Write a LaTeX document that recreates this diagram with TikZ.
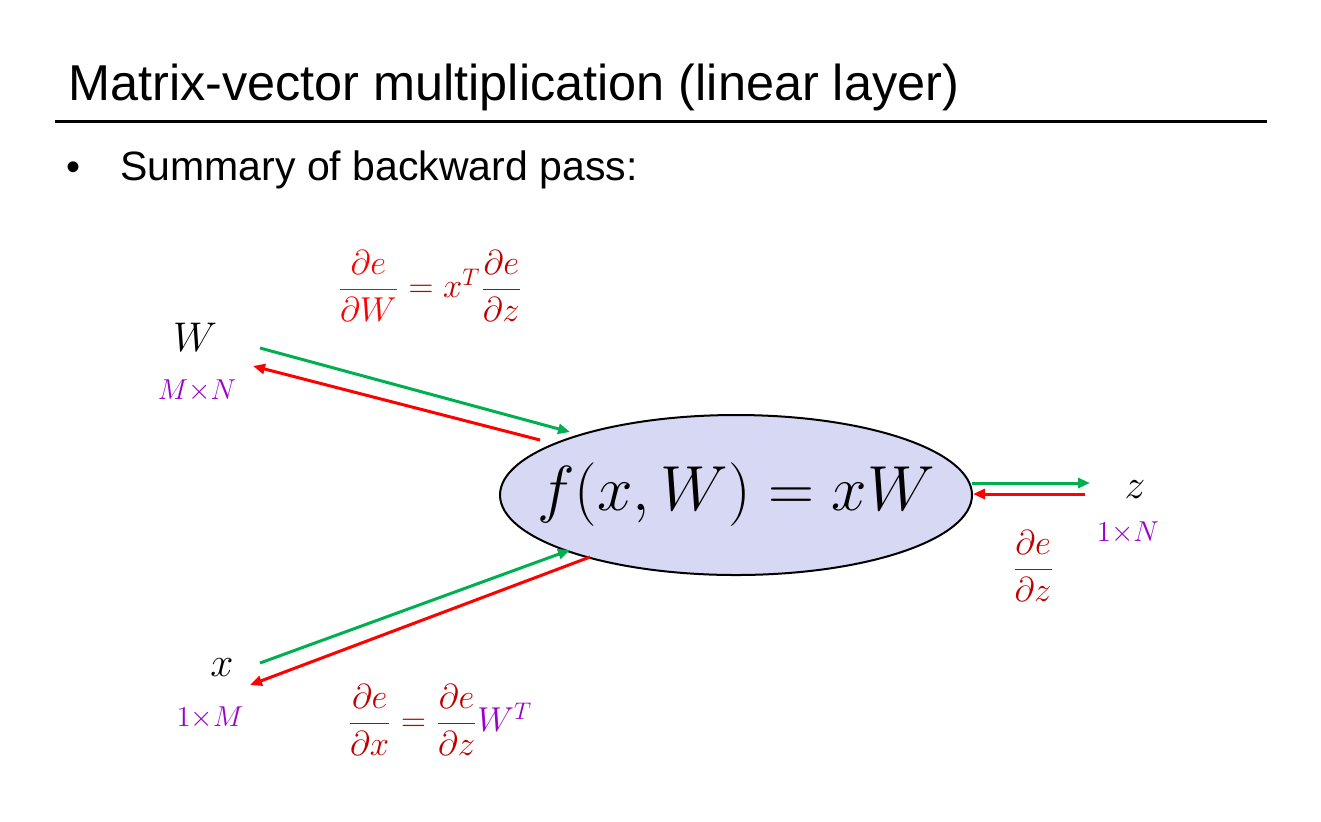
\documentclass[tikz,border=0pt]{standalone}
\usepackage{fontspec}
\setmainfont{Liberation Sans}
\usepackage{amsmath}
\usepackage{xcolor}
\usetikzlibrary{positioning,shapes.geometric,arrows.meta}
\definecolor{fwdgreen}{HTML}{00B050}
\definecolor{bwdred}{HTML}{FF0000}
\definecolor{darkred}{HTML}{C00000}
\definecolor{dimpurple}{HTML}{9900CC}
\definecolor{nodefill}{HTML}{D7D8F3}
\tikzset{
  fwd/.style={fwdgreen, line width=1.5pt, -{Triangle[length=6pt,width=5pt]}},
  bwd/.style={bwdred, line width=1.5pt, -{Triangle[length=6pt,width=5pt]}},
  var/.style={font=\fontsize{22}{24}\selectfont, inner sep=0pt},
  dim/.style={text=dimpurple, font=\fontsize{14.5}{16}\selectfont, inner sep=0pt},
  grad/.style={font=\fontsize{17}{20}\selectfont, inner sep=0pt}
}
\begin{document}
\begin{tikzpicture}[x=0.5pt,y=-0.5pt]
  \useasboundingbox (0,0) rectangle (1321,821);
  % title and bullet
  \node[anchor=base west, inner sep=0pt, font=\fontsize{25.2}{30}\selectfont] (title) at (68,100) {Matrix-vector multiplication (linear layer)};
  \draw[line width=1.5pt] (55,121) -- (1267,121);
  \node[anchor=base west, inner sep=0pt, font=\fontsize{20}{24}\selectfont] (bullet) at (66,180) {\textbullet};
  \node[anchor=base west, inner sep=0pt, font=\fontsize{20.5}{24}\selectfont] (summary) at (120,180) {Summary of backward pass:};
  % the function node
  \node[ellipse, draw, line width=1pt, fill=nodefill, minimum width=236pt, minimum height=80pt] (f) at (736,495) {};
  \node[font=\fontsize{33}{40}\selectfont, scale=1.28, inner sep=0pt] (fx) at (f.center) {$f(x,W)=xW$};
  \node[var] (W) at (195,337) {$W$};
  \node[dim] (Wdim) at (197,391) {$M{\times}N$};
  \node[var] (x) at (222,668) {$x$};
  \node[dim] (xdim) at (210,718) {$1{\times}M$};
  \node[var] (z) at (1135,490) {$z$};
  \node[dim] (zdim) at (1128,533) {$1{\times}N$};
  % arrow ends
  \coordinate (Wg0) at (260,348); \coordinate (Wg1) at (570,432);
  \coordinate (Wr0) at (540,440); \coordinate (Wr1) at (253,366);
  \coordinate (xg0) at (260,663); \coordinate (xg1) at (570,550);
  \coordinate (xr0) at (590,557); \coordinate (xr1) at (250,685);
  \coordinate (zg0) at (972,483); \coordinate (zg1) at (1090,483);
  \coordinate (zr0) at (1085,494); \coordinate (zr1) at (973,494);
  \draw[fwd] (Wg0) -- (Wg1);
  \draw[bwd] (Wr0) -- (Wr1);
  \draw[fwd] (xg0) -- (xg1);
  \draw[bwd] (xr0) -- (xr1);
  \draw[fwd] (zg0) -- (zg1);
  \draw[bwd] (zr0) -- (zr1);
  % gradients
  \node[grad] (dW) at (430,286) {$\color{bwdred}\dfrac{\partial e}{\partial W}\color{darkred}=x^T\dfrac{\partial e}{\partial z}$};
  \node[grad] (dx) at (440,720) {$\color{darkred}\dfrac{\partial e}{\partial x}=\dfrac{\partial e}{\partial z}\color{dimpurple}W^T$};
  \node[grad, text=darkred] (dz) at (1033,566) {$\dfrac{\partial e}{\partial z}$};
\end{tikzpicture}
\end{document}
